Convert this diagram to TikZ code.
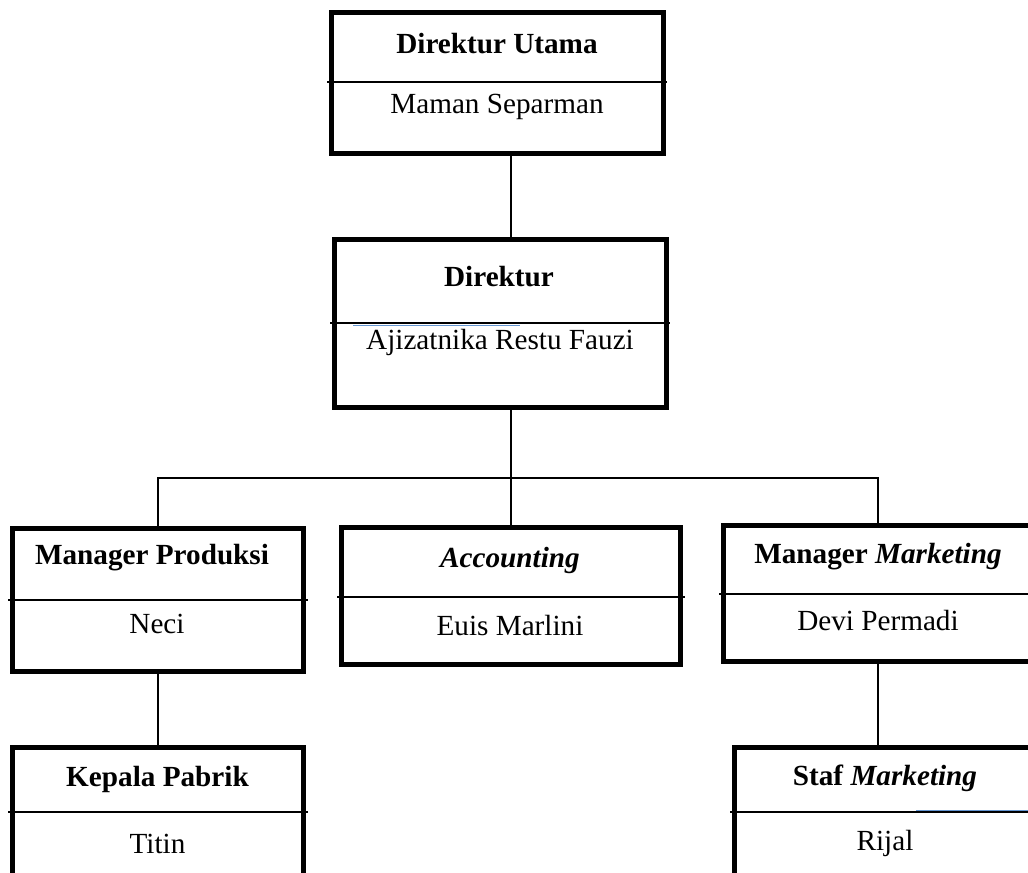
\documentclass[tikz,border=0pt]{standalone}
\usepackage{fontspec}
\setmainfont{Liberation Serif}
\definecolor{stray}{RGB}{100,150,210}
\begin{document}
\begin{tikzpicture}[x=0.75pt,y=-0.75pt,
  orgbox/.style={draw, rectangle, line width=3.75pt, inner sep=0pt},
  divider/.style={line width=1.6pt},
  conn/.style={line width=1.3pt},
  lbl/.style={inner sep=0pt, font=\fontsize{21.9pt}{26pt}\selectfont},
  ttl/.style={lbl, font=\fontsize{21.9pt}{26pt}\selectfont\bfseries}]
\useasboundingbox (0,0) rectangle (1028,873);
\clip (0,0) rectangle (1028,873);

% boxes
\node[orgbox, minimum width=249pt, minimum height=105.75pt] (top) at (497.5,83) {};
\node[orgbox, minimum width=249pt, minimum height=126pt] (dir) at (500.5,323.5) {};
\node[orgbox, minimum width=218.25pt, minimum height=107.25pt] (mp) at (158,600) {};
\node[orgbox, minimum width=254.25pt, minimum height=102.75pt] (acc) at (511,596) {};
\node[orgbox, minimum width=231.75pt, minimum height=102pt] (mm) at (878,593.5) {};
\node[orgbox, minimum width=218.25pt, minimum height=129.4pt] (kp) at (158,833.75) {};
\node[orgbox, minimum width=226.1pt, minimum height=129.4pt] (sm) at (885.25,833.75) {};

% dividers
\draw[divider] (327,82) -- (667,82);
\draw[divider] (330,323) -- (670,323);
\draw[stray, line width=0.8pt] (353,325.5) -- (520,325.5);
\draw[divider] (8,600) -- (308,600);
\draw[divider] (337,597) -- (685,597);
\draw[divider] (719,594) -- (1028,594);
\draw[divider] (8,812) -- (308,812);
\draw[divider] (730,812) -- (1028,812);
\draw[stray, line width=0.8pt] (916,810.5) -- (1028,810.5);

% texts
\node[ttl] (t1) at (497,44) {Direktur Utama};
\node[lbl] (n1) at (497,107) {Maman Separman};
\node[ttl] (t2) at (499,277) {Direktur};
\node[lbl] (n2) at (500,342) {Ajizatnika Restu Fauzi};
\node[ttl] (t3) at (152,558) {Manager Produksi};
\node[lbl] (n3) at (157,624) {Neci};
\node[ttl] (t4) at (510,560) {\itshape Accounting};
\node[lbl] (n4) at (510,626) {Euis Marlini};
\node[ttl] (t5) at (878,557) {Manager \itshape Marketing};
\node[lbl] (n5) at (878,621) {Devi Permadi};
\node[ttl] (t6) at (157.5,779) {Kepala Pabrik};
\node[lbl] (n6) at (157.5,844) {Titin};
\node[ttl] (t7) at (885,778) {Staf \itshape Marketing};
\node[lbl] (n7) at (885,843) {Rijal};

% connectors
\coordinate (bus) at (511,478);
\draw[conn] (top.south -| acc.north) -- (dir.north -| acc.north);
\draw[conn] (dir.south -| acc.north) -- (acc.north);
\draw[conn] (mp.north) |- (bus) -| (mm.north);
\draw[conn] (mp.south) -- (kp.north);
\draw[conn] (mm.south) -- (mm.south |- sm.north);
\end{tikzpicture}
\end{document}
